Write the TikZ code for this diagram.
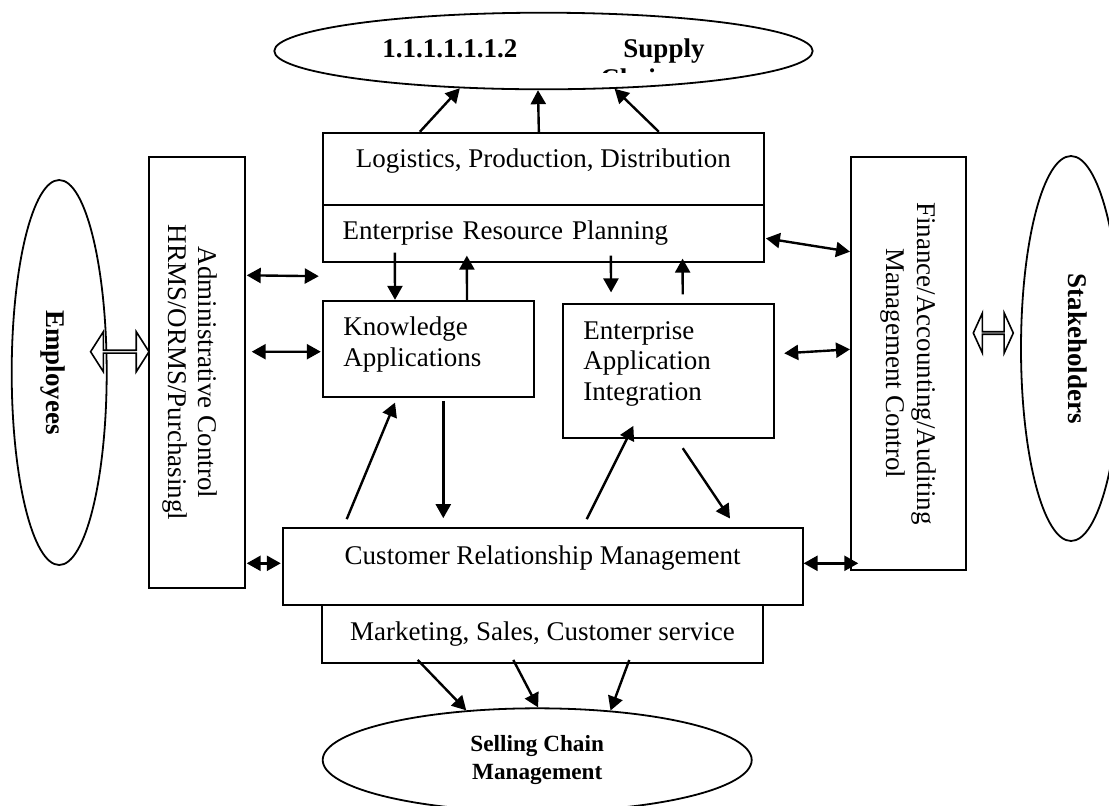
\documentclass[tikz,border=0pt]{standalone}
\usepackage{fontspec}
\setmainfont{Liberation Serif}
\usetikzlibrary{calc,shapes.geometric,shapes.arrows,arrows.meta}

\begin{document}
\begin{tikzpicture}[x=0.5pt,y=-0.5pt]
  \tikzset{box/.style={draw,line width=0.9pt,inner sep=0pt,font=\fontsize{13.5}{15.3}\selectfont},
    oval/.style={draw,line width=0.9pt,ellipse,inner sep=0pt,font=\bfseries\fontsize{13.5}{15.5}\selectfont},
    link/.style={line width=1.2pt,-{Triangle[length=7pt,width=7.5pt]}},
    twoway/.style={line width=1.2pt,{Triangle[length=7pt,width=7.5pt]}-{Triangle[length=7pt,width=7.5pt]}},
    fat/.style={double arrow,draw,fill=white,line width=0.8pt,inner sep=0pt,minimum width=20pt}};
  \useasboundingbox (0,0) rectangle (1109,805);
  \clip (0,0) rectangle (1109,805);
  \node[oval,minimum width=269.2pt,minimum height=38.3pt] (SC) at (543.5,51) {1.1.1.1.1.1.2\hspace{53pt}Supply};
  \begin{scope}
    \clip (560,60) rectangle (720,72.7);
    \node[anchor=base west,inner sep=0pt,font=\bfseries\fontsize{13.5}{15.5}\selectfont] (SCb) at (600,87.2) {Chain};
  \end{scope}
  \node[box,minimum width=220.65pt,minimum height=36.15pt,text depth=10.3pt] (LPD) at (543.35,168.85) {Logistics, Production, Distribution};
  \node[box,minimum width=220.65pt,minimum height=28.35pt,inner xsep=10pt,text width=200.65pt,align=left] (ERP) at (543.35,233.35) {Enterprise Resource Planning};
  \node[box,minimum width=105.8pt,minimum height=48.3pt,inner xsep=10.3pt,text width=85.2pt,align=left] (KA) at (428.5,349) {Knowledge\\Applications\rule[-7.2pt]{0pt}{7.2pt}};
  \node[box,minimum width=105.65pt,minimum height=67pt,inner xsep=10.3pt,text width=85.05pt,align=left] (EAI) at (668.35,371.3) {Enterprise\\Application\\Integration\rule[-10.3pt]{0pt}{10.3pt}};
  \node[box,minimum width=260pt,minimum height=38.35pt,text depth=11.8pt] (CRM) at (542.7,566.7) {Customer Relationship Management};
  \node[box,minimum width=220.8pt,minimum height=28.85pt] (MSC) at (542.5,633.9) {Marketing, Sales, Customer service};
  \node[oval,minimum width=214.5pt,minimum height=51.7pt,align=center,font=\bfseries\fontsize{11.6}{13.85}\selectfont] (SCM) at (537.2,760) {Selling Chain\\Management};
  \node[box,rotate=-90,align=center,minimum width=215.8pt,minimum height=48pt] (AC) at (197,372.5) {\rule{0pt}{16.6pt}Administrative Control\\HRMS/ORMS/Purchasingl};
  \node[box,rotate=-90,align=center,minimum width=206.7pt,minimum height=57.7pt] (FA) at (908.3,363.3) {Finance/Accounting/Auditing\\Management Control};
  \node[oval,rotate=-90,minimum width=192.5pt,minimum height=47.5pt,text height=15.4pt] (E) at (59.2,372.5) {Employees};
  \node[oval,rotate=-90,minimum width=192.5pt,minimum height=50pt,text depth=6.9pt] (S) at (1071,348.5) {Stakeholders};
  \node[fat,minimum height=29.2pt,double arrow head extend=5.25pt,double arrow tip angle=115] (EA) at (119.8,351.7) {};
  \node[fat,minimum height=20pt,double arrow head extend=6pt,double arrow tip angle=131] (SA) at (993.3,333) {};
  \draw[link] ($(LPD.north)+(-123.5,0)$) -- (SC.204);
  \draw[link] ($(LPD.north)+(-4.5,0)$) -- (SC.262);
  \draw[link] ($(LPD.north)+(115.5,0)$) -- (SC.332);
  \draw[link] ($(ERP.south)+(-148.5,-10)$) -- ($(KA.north)+(-33.5,0)$);
  \draw[link] ($(KA.north)+(38.5,0)$) -- ($(ERP.south)+(-76.5,-7)$);
  \draw[link] ($(ERP.south)+(67.5,-7)$) -- ($(EAI.north)+(-57.3,-11)$);
  \draw[link] ($(EAI.north)+(14.4,-9)$) -- ($(ERP.south)+(139.2,-4)$);
  \draw[link] ($(CRM.north)+(-196,-8.3)$) -- ($(KA.south)+(-33.5,4.4)$);
  \draw[link] ($(KA.south)+(14.8,2.7)$) -- ($(CRM.north)+(-99.4,-9.3)$);
  \draw[link] ($(CRM.north)+(44,-8.3)$) -- ($(EAI.south)+(-35,-13.3)$);
  \draw[link] ($(EAI.south)+(14.4,9)$) -- ($(CRM.north)+(187.3,-9)$);
  \draw[link] ($(MSC.south)+(-124.8,-3.7)$) -- (SCM.145);
  \draw[link] ($(MSC.south)+(-29.2,-3.7)$) -- (SCM.89);
  \draw[link] ($(MSC.south)+(86.8,-3.7)$) -- (SCM.34);
  \draw[twoway] ($(AC.center)+(49.7,-97.2)$) -- ($(ERP.south west)+(-3,13.6)$);
  \draw[twoway] ($(AC.center)+(54.7,-20.8)$) -- ($(KA.west)+(-1,2.7)$);
  \draw[twoway] ($(AC.center)+(49.7,190.8)$) -- ($(CRM.west)+(-1,-3.4)$);
  \draw[twoway] ($(ERP.east)+(1,4.95)$) -- ($(FA.center)+(-58.3,-111.6)$);
  \draw[twoway] ($(EAI.east)+(9.3,-18)$) -- ($(FA.center)+(-58.3,-14)$);
  \draw[twoway] ($(CRM.east)+(0,-3.4)$) -- ($(FA.center)+(-50,200)$);
\end{tikzpicture}
\end{document}
